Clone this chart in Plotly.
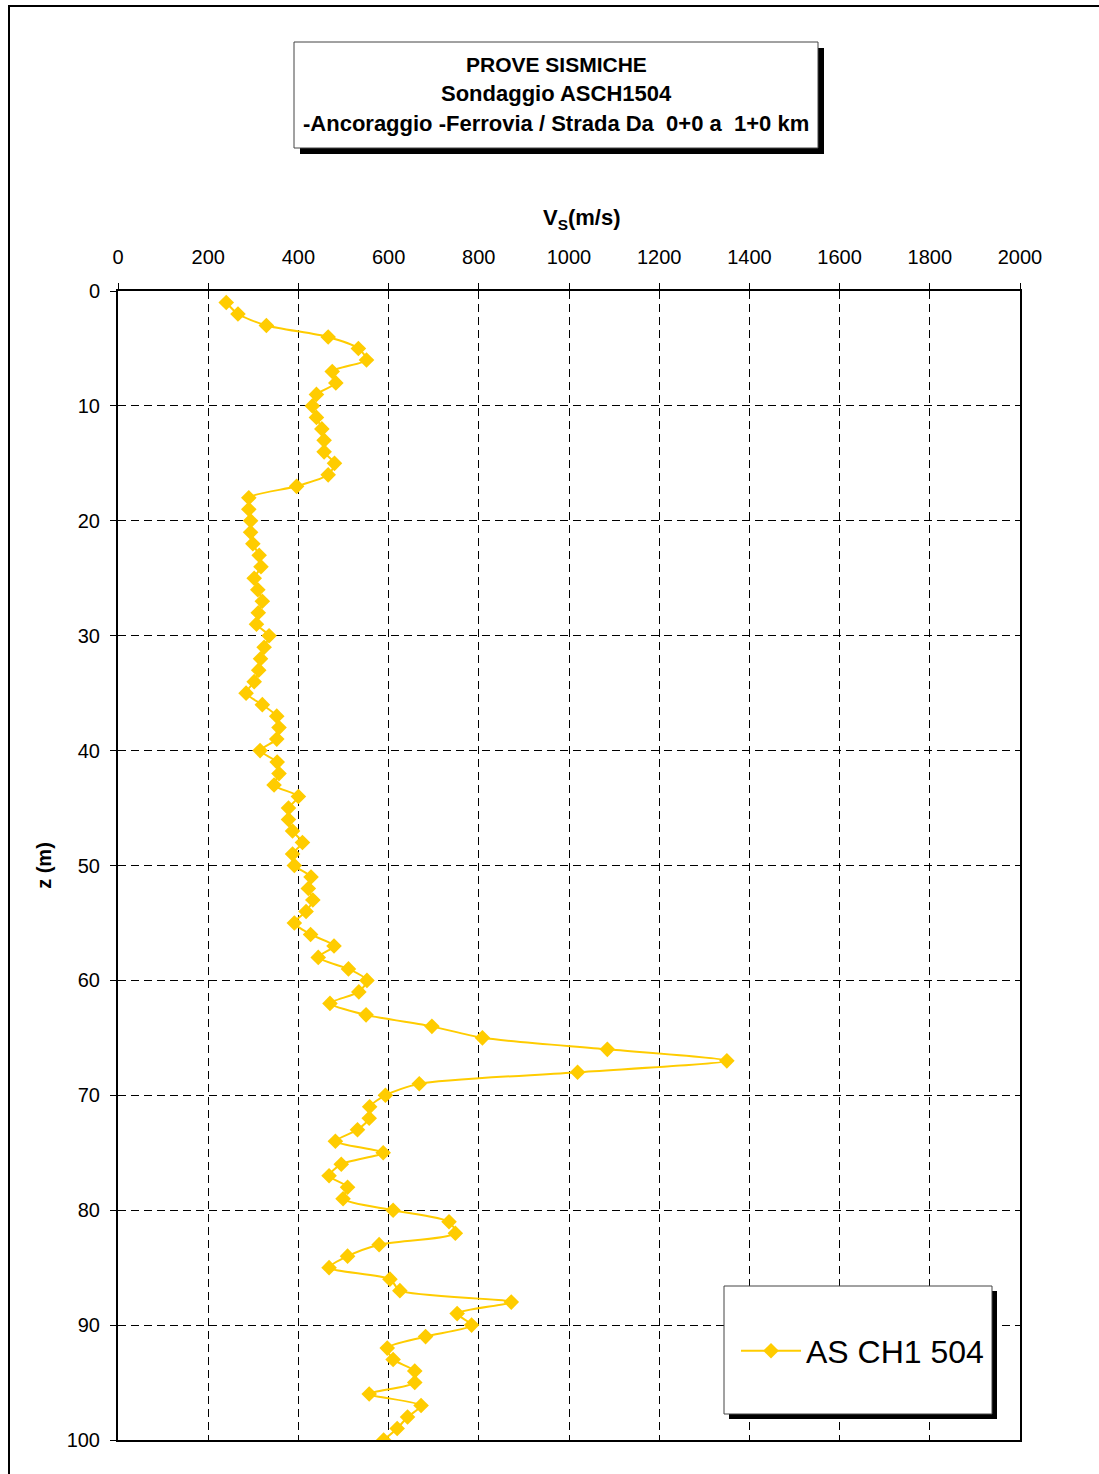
import plotly.graph_objects as go

# Shear-wave velocity profile, borehole ASCH1504
depth_m = [1, 2, 3, 4, 5, 6, 7, 8, 9, 10,
           11, 12, 13, 14, 15, 16, 17, 18, 19, 20,
           21, 22, 23, 24, 25, 26, 27, 28, 29, 30,
           31, 32, 33, 34, 35, 36, 37, 38, 39, 40,
           41, 42, 43, 44, 45, 46, 47, 48, 49, 50,
           51, 52, 53, 54, 55, 56, 57, 58, 59, 60,
           61, 62, 63, 64, 65, 66, 67, 68, 69, 70,
           71, 72, 73, 74, 75, 76, 77, 78, 79, 80,
           81, 82, 83, 84, 85, 86, 87, 88, 89, 90,
           91, 92, 93, 94, 95, 96, 97, 98, 99, 100]

vs_ms = [240, 266, 329, 466, 533, 551, 475, 483, 440, 431,
         440, 452, 457, 457, 480, 466, 396, 290, 290, 294,
         294, 299, 313, 317, 302, 310, 320, 311, 307, 335,
         324, 316, 312, 302, 284, 320, 352, 357, 352, 315,
         353, 357, 346, 400, 378, 378, 387, 409, 387, 391,
         428, 422, 432, 417, 391, 427, 479, 444, 511, 552,
         534, 470, 550, 696, 808, 1085, 1350, 1019, 668, 593,
         558, 557, 531, 482, 588, 495, 468, 509, 499, 610,
         734, 748, 579, 509, 468, 603, 625, 872, 752, 784,
         682, 597, 610, 658, 658, 557, 672, 642, 619, 589]

series_name = "AS CH1 504"
title_lines = ["PROVE SISMICHE",
               "Sondaggio ASCH1504",
               "-Ancoraggio -Ferrovia / Strada Da \u00a00+0 a \u00a01+0 km"]
x_ticks = [0, 200, 400, 600, 800, 1000, 1200, 1400, 1600, 1800, 2000]
y_ticks = [0, 10, 20, 30, 40, 50, 60, 70, 80, 90, 100]

W, H = 1099, 1474
L, R, T, B = 118, 1020, 291, 1440  # plot area in pixels


def px(xp):
    return (xp - L) / (R - L)


def py(yp):
    return (B - yp) / (B - T)


FONT = "Arial, Liberation Sans, sans-serif"
GOLD = "rgb(255,204,0)"

fig = go.Figure()
fig.add_trace(go.Scatter(
    x=vs_ms, y=depth_m, name=series_name, mode="lines+markers",
    line=dict(color=GOLD, width=2, shape="spline", smoothing=0.7),
    marker=dict(symbol="diamond", size=12, color=GOLD),
))

shapes = []
# outer frame of the sheet
shapes.append(dict(type="rect", xref="paper", yref="paper",
                   x0=px(9), x1=px(1115), y0=py(1495), y1=py(6),
                   line=dict(color="black", width=2), layer="below"))
# title box with drop shadow
shapes.append(dict(type="rect", xref="paper", yref="paper",
                   x0=px(300), x1=px(824), y0=py(154), y1=py(48),
                   fillcolor="black", line=dict(width=0), layer="above"))
shapes.append(dict(type="rect", xref="paper", yref="paper",
                   x0=px(294), x1=px(818), y0=py(148), y1=py(42),
                   fillcolor="white", line=dict(color="#444", width=1), layer="above"))
# legend box with drop shadow
shapes.append(dict(type="rect", xref="paper", yref="paper",
                   x0=px(729), x1=px(997), y0=py(1419), y1=py(1291),
                   fillcolor="black", line=dict(width=0), layer="above"))
shapes.append(dict(type="rect", xref="paper", yref="paper",
                   x0=px(724), x1=px(992), y0=py(1414), y1=py(1286),
                   fillcolor="white", line=dict(color="#444", width=1), layer="above"))

annotations = []
for text, yc, fs in zip(title_lines, [64, 93, 124], [21, 22, 22]):
    annotations.append(dict(text=f"<b>{text}</b>", xref="paper", yref="paper",
                            x=px(556), y=py(yc), xanchor="center", yanchor="middle",
                            showarrow=False, font=dict(family=FONT, size=fs, color="black")))
# velocity axis title, set slightly right of centre
annotations.append(dict(text="<b>V<sub>S</sub>(m/s)</b>", xref="paper", yref="paper",
                        x=px(582), y=py(219), xanchor="center", yanchor="middle",
                        showarrow=False, font=dict(family=FONT, size=22, color="black")))

fig.update_layout(
    width=W, height=H,
    margin=dict(l=L, r=W - R, t=T, b=H - B, autoexpand=False),
    paper_bgcolor="white", plot_bgcolor="white",
    font=dict(family=FONT, color="black"),
    shapes=shapes, annotations=annotations,
    showlegend=True,
    legend=dict(x=px(736), y=py(1351), xanchor="left", yanchor="middle",
                bgcolor="rgba(0,0,0,0)", borderwidth=0,
                font=dict(family=FONT, size=32, color="black"),
                itemwidth=60),
    xaxis=dict(
        side="top", range=[0, 2000], tickvals=x_ticks,
        ticktext=[str(v) for v in x_ticks],
        showgrid=True, gridcolor="black", gridwidth=1, griddash="8px,5px",
        showline=True, mirror=True, linecolor="black", linewidth=2,
        ticks="outside", ticklen=6, tickcolor="black", ticklabelstandoff=11,
        tickfont=dict(family=FONT, size=20, color="black"),
        zeroline=False,
    ),
    yaxis=dict(
        range=[100, 0], tickvals=y_ticks, ticktext=[str(v) for v in y_ticks],
        showgrid=True, gridcolor="black", gridwidth=1, griddash="8px,5px",
        showline=True, mirror=True, linecolor="black", linewidth=2,
        ticks="outside", ticklen=6, tickcolor="black", ticklabelstandoff=6,
        tickfont=dict(family=FONT, size=20, color="black"),
        zeroline=False,
        title=dict(text="<b>z (m)</b>", standoff=10,
                   font=dict(family=FONT, size=20, color="black")),
    ),
)

fig.write_html("out.html")
